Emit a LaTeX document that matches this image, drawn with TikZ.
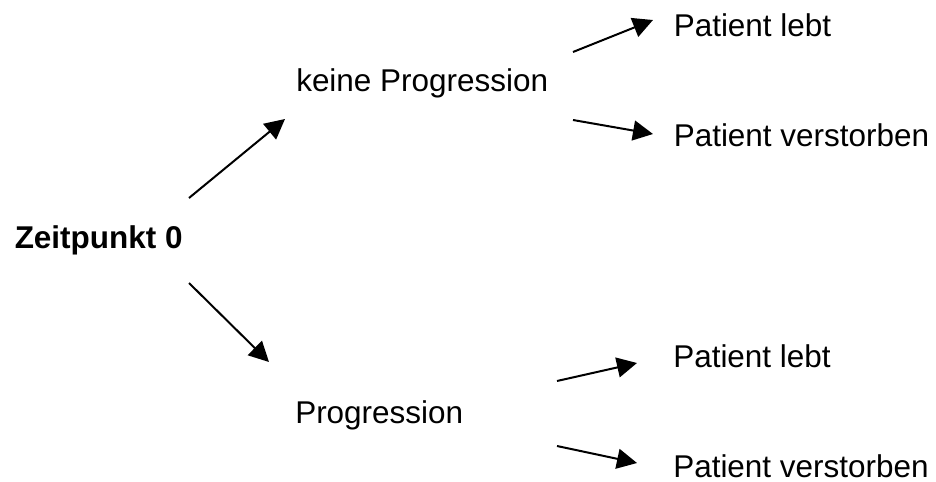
\documentclass[tikz,border=0pt]{standalone}
\usepackage{fontspec}
\setmainfont{Liberation Sans}
\usetikzlibrary{arrows.meta}
\begin{document}
\begin{tikzpicture}[x=0.75pt,y=-0.75pt,
  label/.style={anchor=base west,inner sep=0pt,font=\fontsize{23.6}{28}\selectfont},
  edge/.style={line width=1.5pt,-{Triangle[length=15pt,width=15pt]}}]
\useasboundingbox (0,0) rectangle (936,482);

% states of the tree
\node[label,font=\fontsize{23.6}{28}\selectfont\bfseries] (start) at (14.5,248) {Zeitpunkt 0};
\node[label] (nop) at (296,91) {keine Progression};
\node[label] (prog) at (295,423) {Progression};
\node[label] (nlive) at (673.5,36) {Patient lebt};
\node[label] (ndead) at (673.5,146) {Patient verstorben};
\node[label] (plive) at (673,367) {Patient lebt};
\node[label] (pdead) at (673,477) {Patient verstorben};

% end points of the transition arrows
\coordinate (a1) at (189,198);  \coordinate (b1) at (285,119);
\coordinate (a2) at (189,283);  \coordinate (b2) at (269,362);
\coordinate (a3) at (573,52);   \coordinate (b3) at (653,20);
\coordinate (a4) at (573,120);  \coordinate (b4) at (653,134);
\coordinate (a5) at (557,381);  \coordinate (b5) at (637,363);
\coordinate (a6) at (557,446);  \coordinate (b6) at (637,463);

\draw[edge] (a1) -- (b1);
\draw[edge] (a2) -- (b2);
\draw[edge] (a3) -- (b3);
\draw[edge] (a4) -- (b4);
\draw[edge] (a5) -- (b5);
\draw[edge] (a6) -- (b6);
\end{tikzpicture}
\end{document}
